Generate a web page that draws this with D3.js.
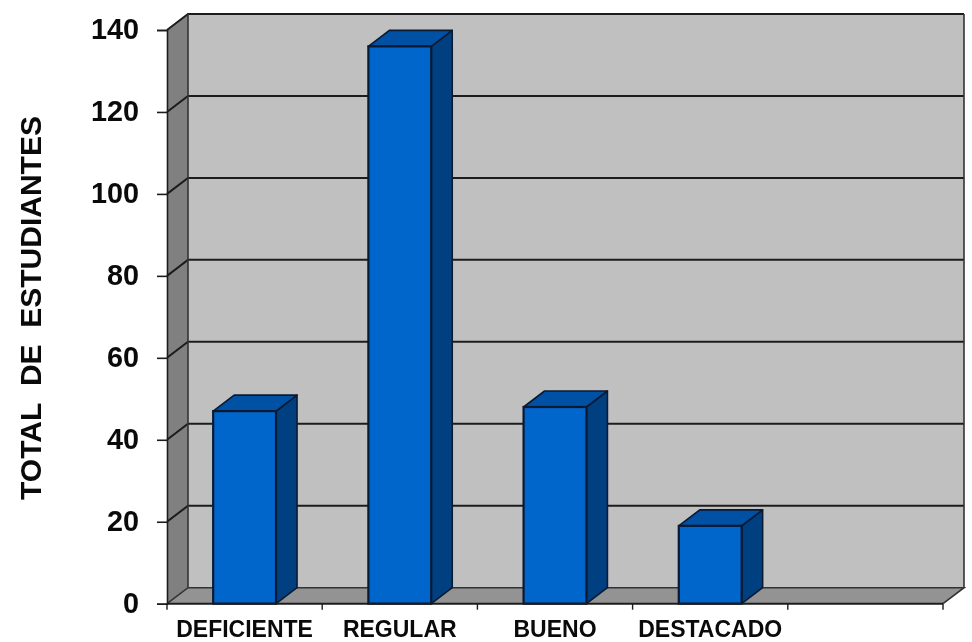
<!DOCTYPE html>
<html><head><meta charset="utf-8">
<script src="https://cdnjs.cloudflare.com/ajax/libs/d3/7.8.5/d3.min.js"></script>
<style>html,body{margin:0;padding:0;background:#fff}svg{display:block}</style>
</head><body><svg id="c" width="972" height="642"></svg>
<script>
const categories = ["DEFICIENTE","REGULAR","BUENO","DESTACADO",""];
const values = [47,136,48,19];
const yTicks = [0,20,40,60,80,100,120,140];
const yTitle = "TOTAL\u00A0\u00A0DE\u00A0\u00A0ESTUDIANTES";

const svg = d3.select("#c");
const root = svg.append("g").style("filter","blur(0.55px)");
const y = d3.scaleLinear().domain([0,140]).range([603.7,30]);
const x = d3.scaleBand().domain(categories.map((c,i)=>i)).range([167,943]).paddingInner(0).paddingOuter(0);
const DX = 21, DY = -16, barW = 0.405;
const ink = "#1c1c1c", font = "'Liberation Sans',Arial,sans-serif";
const poly = pts => pts.map(p=>p.join(",")).join(" ");
const x0 = x.range()[0], x1 = x.range()[1], yB = y(0), yT = y(140);

// walls
root.append("polygon").attr("points",poly([[x0+DX,yT+DY],[x1+DX,yT+DY],[x1+DX,yB+DY],[x0+DX,yB+DY]])).attr("fill","#c0c0c0");
root.append("polygon").attr("points",poly([[x0,yT],[x0+DX,yT+DY],[x0+DX,yB+DY],[x0,yB]])).attr("fill","#808080");
root.append("polygon").attr("points",poly([[x0,yB],[x0+DX,yB+DY],[x1+DX,yB+DY],[x1,yB]])).attr("fill","#939393");

// gridlines
root.append("g").selectAll("polyline").data(yTicks.filter(t=>t>0)).join("polyline")
  .attr("points",d=>poly([[x0,y(d)],[x0+DX,y(d)+DY],[x1+DX,y(d)+DY]]))
  .attr("fill","none").attr("stroke",ink).attr("stroke-width",2);
// wall outlines
root.append("polyline").attr("points",poly([[x0,yB],[x0+DX,yB+DY],[x1+DX,yB+DY],[x1,yB]])).attr("fill","none").attr("stroke","#333").attr("stroke-width",1.6);
root.append("polyline").attr("points",poly([[x0+DX,yB+DY],[x0+DX,yT+DY]])).attr("stroke","#333").attr("stroke-width",1.6);
root.append("line").attr("x1",x1+DX).attr("x2",x1+DX).attr("y1",yT+DY).attr("y2",yB+DY).attr("stroke","#333").attr("stroke-width",1.6);

// bars
const bars = root.append("g").selectAll("g").data(values).join("g");
const L = (d,i)=>x(i)+x.bandwidth()*(1-barW)/2;
const R = (d,i)=>x(i)+x.bandwidth()*(1+barW)/2;
bars.append("polygon").attr("fill","#004080").attr("stroke","#0a1a33").attr("stroke-width",1.6).attr("stroke-linejoin","round")
  .attr("points",(d,i)=>poly([[R(d,i),y(d)],[R(d,i)+DX,y(d)+DY],[R(d,i)+DX,yB+DY],[R(d,i),yB]]));
bars.append("polygon").attr("fill","#0050a4").attr("stroke","#0a1a33").attr("stroke-width",1.6).attr("stroke-linejoin","round")
  .attr("points",(d,i)=>poly([[L(d,i),y(d)],[L(d,i)+DX,y(d)+DY],[R(d,i)+DX,y(d)+DY],[R(d,i),y(d)]]));
bars.append("rect").attr("fill","#0066cc").attr("stroke","#0a1a33").attr("stroke-width",2.2)
  .attr("x",L).attr("width",(d,i)=>R(d,i)-L(d,i)).attr("y",d=>y(d)).attr("height",d=>yB-y(d));

// axes
const yAxis = d3.axisLeft(y).tickValues(yTicks).tickSize(10).tickPadding(18);
const gy = root.append("g").attr("transform",`translate(${x0},0)`).call(yAxis);
gy.selectAll("text").attr("font-family",font).attr("font-weight","bold").attr("font-size",28.8).attr("fill","#0a0a0a");
gy.selectAll("line").attr("stroke",ink).attr("stroke-width",1.6);
gy.select(".domain").attr("stroke",ink).attr("stroke-width",1.6);
gy.selectAll(".tick text").attr("dy","0.31em");

const gx = root.append("g").attr("transform",`translate(0,${yB})`);
gx.append("line").attr("x1",x0).attr("x2",x1).attr("stroke",ink).attr("stroke-width",2);
const tickPos = categories.map((c,i)=>x(i)).concat([x1]);
gx.selectAll("line.t").data(tickPos).join("line").attr("class","t").attr("x1",d=>d).attr("x2",d=>d).attr("y1",0).attr("y2",6).attr("stroke",ink).attr("stroke-width",1.4);
gx.selectAll("text").data(categories).join("text")
  .attr("x",(d,i)=>x(i)+x.bandwidth()/2)
  .attr("y",33.5).attr("text-anchor","middle")
  .attr("font-family",font).attr("font-weight","bold").attr("font-size",23).attr("fill","#0a0a0a").text(d=>d);

// y title
root.append("text").attr("transform","translate(41,308) rotate(-90)").attr("text-anchor","middle")
  .attr("font-family",font).attr("font-weight","bold").attr("font-size",30).attr("fill","#0a0a0a").text(yTitle);
</script></body></html>
